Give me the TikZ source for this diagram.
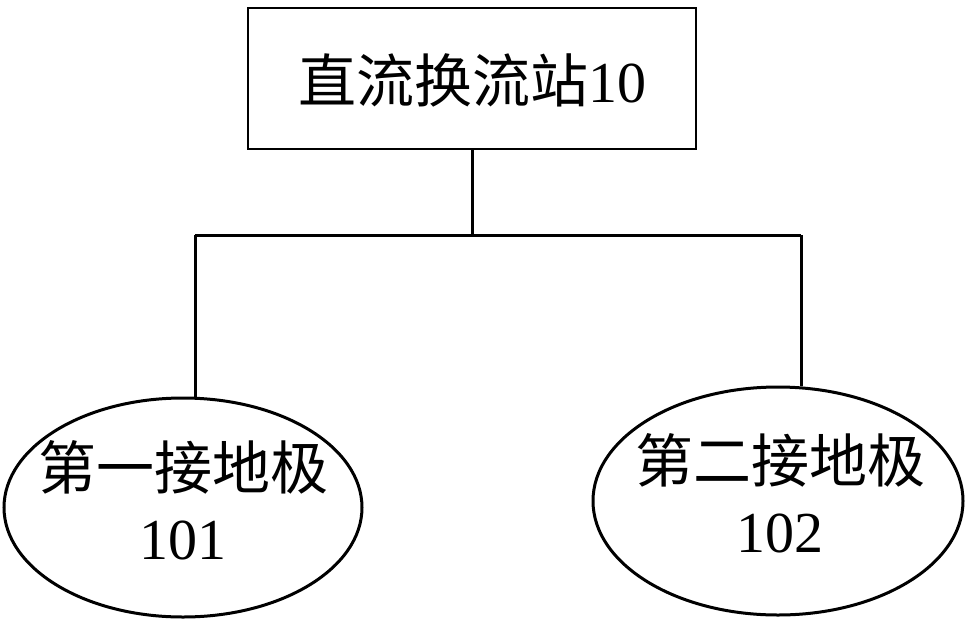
\documentclass[tikz,border=0pt]{standalone}
\usepackage{fontspec}
\setmainfont{Liberation Serif}
\newfontfamily\cjk{Noto Sans CJK SC}
\usetikzlibrary{shapes.geometric}
\begin{document}
\begin{tikzpicture}[x=1pt,y=-1pt,
  wire/.style={line width=3pt},
  topbox/.style={draw,line width=1.5pt,minimum width=448pt,minimum height=141pt,inner sep=0pt},
  pole/.style={draw,ellipse,line width=3pt,inner sep=0pt},
  lbl/.style={font=\fontsize{58pt}{64pt}\selectfont,align=center,inner sep=0pt}]
\useasboundingbox (0,0) rectangle (974,627);
\node[topbox] (st) at (472,78.5) {};
\node[lbl] (stt) at (472,80) {{\cjk 直流换流站}10};
\node[pole,minimum width=358pt,minimum height=219pt] (e1) at (183,507.5) {};
\node[pole,minimum width=370pt,minimum height=228pt] (e2) at (778,501) {};
\node[lbl] (t1) at (183,467) {\cjk 第一接地极};
\node[lbl] (n1) at (183,540) {101};
\node[lbl] (t2) at (780,460) {\cjk 第二接地极};
\node[lbl] (n2) at (780,533) {102};
\coordinate (j) at (472,235);
\coordinate (jl) at (195,235);
\coordinate (jr) at (801,235);
\draw[wire] (st.south -| j) -- (j);
\draw[wire] (jl) -- (jr);
\draw[wire] (jl) -- (jl |- e1.north);
\draw[wire] (jr) -- (jr |- e2.north);
\end{tikzpicture}
\end{document}
